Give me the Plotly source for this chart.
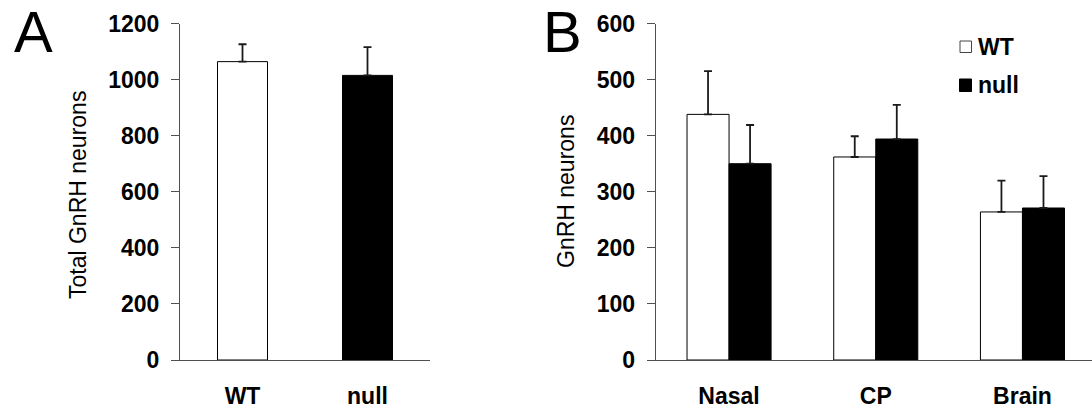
import plotly.graph_objects as go

# ---- data ----
genotypes = ["WT", "null"]
total_counts = [1064, 1015]
total_sem = [62, 101]

regions = ["Nasal", "CP", "Brain"]
wt_counts = [438, 362, 264]
wt_sem = [77, 37, 56]
null_counts = [350, 394, 271]
null_sem = [69, 61, 57]

a_ticks = [0, 200, 400, 600, 800, 1000, 1200]
b_ticks = [0, 100, 200, 300, 400, 500, 600]

# ---- figure geometry (pixels) ----
W, H = 1092, 411
FONT = "Liberation Sans, Arial, sans-serif"
AXIS_GREY = "#505050"
ERR_COL = "#1a1a1a"


def px_x(v):
    return v / W


def px_y(v):
    return 1 - v / H


fig = go.Figure()

# Panel A: total counts, one bar per genotype
fig.add_trace(go.Bar(
    x=genotypes, y=total_counts, width=0.4,
    marker=dict(color=["white", "black"], line=dict(color="black", width=1)),
    error_y=dict(type="data", array=total_sem, arrayminus=[0] * len(total_sem),
                 symmetric=False, color=ERR_COL, thickness=1.8, width=4),
    xaxis="x", yaxis="y", showlegend=False,
))

# Panel B: counts per region, grouped by genotype
fig.add_trace(go.Bar(
    name=genotypes[0], x=regions, y=wt_counts,
    marker=dict(color="white", line=dict(color="black", width=1)),
    error_y=dict(type="data", array=wt_sem, arrayminus=[0] * len(wt_sem),
                 symmetric=False, color=ERR_COL, thickness=1.8, width=4),
    xaxis="x2", yaxis="y2", showlegend=False,
))
fig.add_trace(go.Bar(
    name=genotypes[1], x=regions, y=null_counts,
    marker=dict(color="black", line=dict(color="black", width=1)),
    error_y=dict(type="data", array=null_sem, arrayminus=[0] * len(null_sem),
                 symmetric=False, color=ERR_COL, thickness=1.8, width=4),
    xaxis="x2", yaxis="y2", showlegend=False,
))

tick_font = dict(family=FONT, size=23, color="black", weight="bold")
y_dom = [px_y(360), px_y(23.5)]

common_y = dict(
    showline=True, linecolor=AXIS_GREY, linewidth=1,
    ticks="outside", ticklen=8, tickcolor=AXIS_GREY, tickwidth=1,
    showgrid=False, zeroline=False, tickfont=tick_font,
    ticklabelstandoff=7, automargin=False,
)
common_x = dict(
    type="category", showline=True, linecolor=AXIS_GREY, linewidth=1,
    ticks="", showgrid=False, zeroline=False, tickfont=tick_font,
    ticklabelstandoff=15, automargin=False,
)

fig.update_layout(
    width=W, height=H,
    margin=dict(l=0, r=0, t=0, b=0, pad=0, autoexpand=False),
    paper_bgcolor="white", plot_bgcolor="white",
    barmode="group", bargap=0.427, bargroupgap=0,
    xaxis=dict(domain=[px_x(180), px_x(430)], range=[-0.5, 1.5], anchor="y", **common_x),
    yaxis=dict(domain=y_dom, range=[0, 1200], tickvals=a_ticks, anchor="x", **common_y),
    xaxis2=dict(domain=[px_x(655.7), 1.0], range=[-0.5, 2.474], anchor="y2", **common_x),
    yaxis2=dict(domain=y_dom, range=[0, 600], tickvals=b_ticks, anchor="x2", **common_y),
)

annotations = [
    dict(text="A", x=px_x(12), y=px_y(31), xanchor="left", yanchor="middle",
         font=dict(family=FONT, size=58, color="black")),
    dict(text="B", x=px_x(541), y=px_y(31), xanchor="left", yanchor="middle",
         font=dict(family=FONT, size=58, color="black")),
    dict(text="Total GnRH neurons", x=px_x(78), y=px_y(195), textangle=-90,
         xanchor="center", yanchor="middle",
         font=dict(family=FONT, size=23, color="black")),
    dict(text="GnRH neurons", x=px_x(566), y=px_y(192), textangle=-90,
         xanchor="center", yanchor="middle",
         font=dict(family=FONT, size=23, color="black")),
    # legend labels
    dict(text=genotypes[0], x=px_x(976), y=px_y(46.5), xanchor="left", yanchor="middle",
         font=dict(family=FONT, size=23, color="black", weight="bold")),
    dict(text=genotypes[1], x=px_x(976), y=px_y(85), xanchor="left", yanchor="middle",
         font=dict(family=FONT, size=23, color="black", weight="bold")),
]
for a in annotations:
    a.update(xref="paper", yref="paper", showarrow=False)
fig.update_layout(annotations=annotations)

# legend swatches
fig.add_shape(type="rect", xref="paper", yref="paper",
              x0=px_x(960), x1=px_x(971.5), y0=px_y(52.5), y1=px_y(41),
              fillcolor="white", line=dict(color="#444444", width=1))
fig.add_shape(type="rect", xref="paper", yref="paper",
              x0=px_x(959.5), x1=px_x(971.5), y0=px_y(91.5), y1=px_y(79),
              fillcolor="black", line=dict(color="black", width=1))

fig.write_html("out.html")
